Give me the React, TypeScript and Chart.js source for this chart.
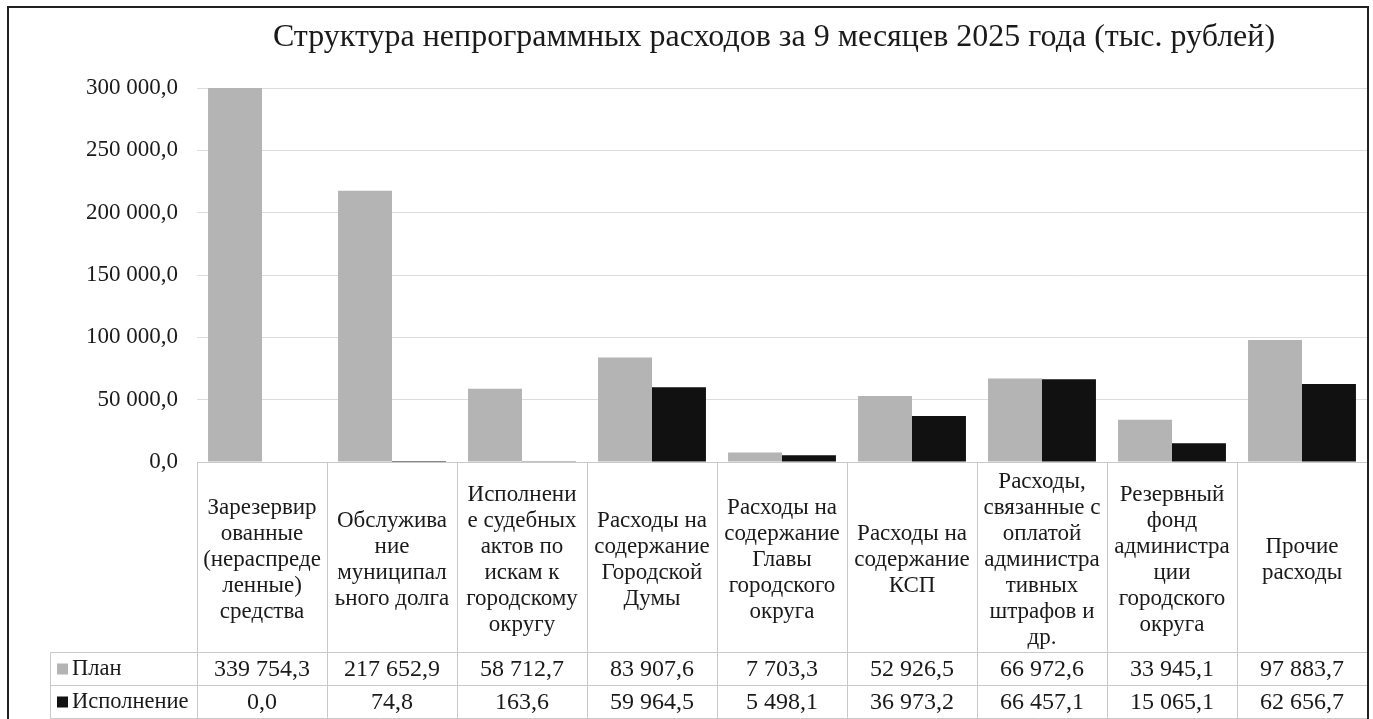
import React, { useEffect, useRef } from "react";
import { Chart, registerables } from "chart.js";

Chart.register(...registerables);

const TITLE = "Структура непрограммных расходов за 9 месяцев 2025 года (тыс. рублей)";

const categories: string[][] = [
  ["Зарезервир", "ованные", "(нераспреде", "ленные)", "средства"],
  ["Обслужива", "ние", "муниципал", "ьного долга"],
  ["Исполнени", "е судебных", "актов по", "искам к", "городскому", "округу"],
  ["Расходы на", "содержание", "Городской", "Думы"],
  ["Расходы на", "содержание", "Главы", "городского", "округа"],
  ["Расходы на", "содержание", "КСП"],
  ["Расходы,", "связанные с", "оплатой", "администра", "тивных", "штрафов и", "др."],
  ["Резервный", "фонд", "администра", "ции", "городского", "округа"],
  ["Прочие", "расходы"],
];

const seriesNames = ["План", "Исполнение"];
const planValues = [339754.3, 217652.9, 58712.7, 83907.6, 7703.3, 52926.5, 66972.6, 33945.1, 97883.7];
const execValues = [0.0, 74.8, 163.6, 59964.5, 5498.1, 36973.2, 66457.1, 15065.1, 62656.7];
const seriesColors = ["#b4b4b4", "#111111"];

const Y_MIN = 0;
const Y_MAX = 300000;
const Y_STEP = 50000;

const SERIF = "'Liberation Serif', 'Times New Roman', serif";

function fmt(v: number): string {
  const [i, d] = v.toFixed(1).split(".");
  return i.replace(/\B(?=(\d{3})+(?!\d))/g, " ") + "," + d;
}

const W = 1373;
const H = 719;

const tablePlugin = {
  id: "dataTable",
  beforeDraw(chart: any) {
    const ctx = chart.ctx;
    ctx.save();
    ctx.fillStyle = "#ffffff";
    ctx.fillRect(0, 0, chart.width, chart.height);
    ctx.restore();
  },
  afterDraw(chart: any) {
    const ctx = chart.ctx as CanvasRenderingContext2D;
    const { left, right, bottom } = chart.chartArea;
    const xs = chart.scales.x;
    const n = categories.length;
    const colW = (right - left) / n;
    const headerBottom = 652;
    const row1Bottom = 685;
    const row2Bottom = 718;
    const legendLeft = 50;

    ctx.save();
    ctx.strokeStyle = "#c9c9c9";
    ctx.lineWidth = 1;
    const line = (x1: number, y1: number, x2: number, y2: number) => {
      ctx.beginPath();
      ctx.moveTo(Math.round(x1) + 0.5, Math.round(y1) + 0.5);
      ctx.lineTo(Math.round(x2) + 0.5, Math.round(y2) + 0.5);
      ctx.stroke();
    };
    line(left, bottom, right, bottom);
    line(legendLeft, headerBottom, right, headerBottom);
    line(legendLeft, row1Bottom, right, row1Bottom);
    line(legendLeft, row2Bottom, right, row2Bottom);
    for (let i = 0; i <= n; i++) {
      const x = left + i * colW;
      line(x, bottom, x, row2Bottom);
    }
    line(legendLeft, headerBottom, legendLeft, row2Bottom);

    // header labels
    ctx.fillStyle = "#1a1a1a";
    ctx.font = `23px ${SERIF}`;
    ctx.textAlign = "center";
    ctx.textBaseline = "middle";
    const lh = 26;
    const headerCenter = (bottom + headerBottom) / 2 + 3;
    categories.forEach((lines, i) => {
      const cx = xs.getPixelForValue(i);
      const y0 = headerCenter - ((lines.length - 1) * lh) / 2;
      lines.forEach((t, k) => ctx.fillText(t, cx, y0 + k * lh));
    });

    // value rows
    const rows = [planValues, execValues];
    const rowCenters = [(headerBottom + row1Bottom) / 2 + 1, (row1Bottom + row2Bottom) / 2 + 1];
    rows.forEach((vals, r) => {
      ctx.font = `24px ${SERIF}`;
      ctx.textAlign = "center";
      ctx.fillStyle = "#1a1a1a";
      vals.forEach((v, i) => {
        ctx.fillText(fmt(v), xs.getPixelForValue(i), rowCenters[r]);
      });
      ctx.fillStyle = seriesColors[r];
      ctx.fillRect(57, rowCenters[r] - 6, 11, 11);
      ctx.fillStyle = "#1a1a1a";
      ctx.textAlign = "left";
      ctx.font = `22.5px ${SERIF}`;
      ctx.fillText(seriesNames[r], 72, rowCenters[r]);
    });

    // title
    ctx.textAlign = "center";
    ctx.font = `32px ${SERIF}`;
    ctx.fillText(TITLE, 774, 38);

    // outer frame
    ctx.strokeStyle = "#222222";
    ctx.lineWidth = 2;
    ctx.strokeRect(8, 7, 1360, 740);
    ctx.restore();
  },
};

export default function App() {
  const ref = useRef<HTMLCanvasElement | null>(null);

  useEffect(() => {
    document.body.style.margin = "0";
    const canvas = ref.current;
    if (!canvas) return;
    const chart = new Chart(canvas, {
      type: "bar",
      data: {
        labels: categories.map((c) => c.join(" ")),
        datasets: [
          {
            label: seriesNames[0],
            data: planValues,
            backgroundColor: seriesColors[0],
            borderWidth: 0,
            categoryPercentage: 0.83,
            barPercentage: 1.0,
          },
          {
            label: seriesNames[1],
            data: execValues,
            backgroundColor: seriesColors[1],
            borderWidth: 0,
            categoryPercentage: 0.83,
            barPercentage: 1.0,
          },
        ],
      },
      options: {
        responsive: false,
        animation: false,
        devicePixelRatio: 1,
        layout: { padding: { left: 0, right: 6, top: 88, bottom: H - 462 } },
        plugins: {
          legend: { display: false },
          title: { display: false },
          tooltip: { enabled: false },
        },
        scales: {
          x: {
            display: false,
            grid: { display: false },
          },
          y: {
            min: Y_MIN,
            max: Y_MAX,
            afterFit: (s: any) => {
              s.width = 197;
            },
            ticks: {
              stepSize: Y_STEP,
              padding: 19,
              color: "#1a1a1a",
              font: { family: SERIF, size: 23 },
              callback: (v: any) => fmt(Number(v)),
            },
            grid: {
              color: "#dcdcdc",
              drawTicks: false,
              lineWidth: 1,
            },
            border: { display: false },
          },
        },
      },
      plugins: [tablePlugin],
    });
    return () => chart.destroy();
  }, []);

  return (
    <div style={{ position: "fixed", left: 0, top: 0, width: W, height: H, background: "#fff" }}>
      <canvas ref={ref} width={W} height={H} style={{ display: "block" }} />
    </div>
  );
}
